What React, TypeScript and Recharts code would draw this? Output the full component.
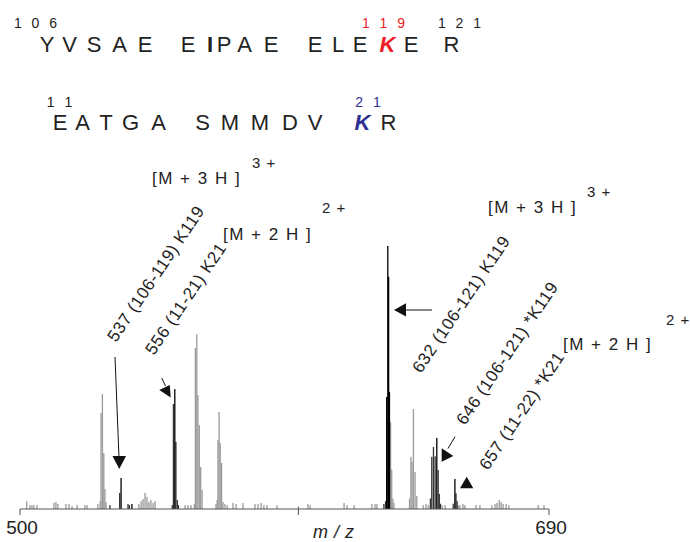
import React from "react";
import { BarChart, Bar, XAxis, YAxis, Cell } from "recharts";

// m/z positions and relative intensities (%), split by shade of the stick
const grayMz = [
  502.4, 503.6, 504.3, 505.0, 506.1, 512.2, 512.9, 513.6, 516.5, 517.6, 518.7,
  520.5, 523.3, 524.1, 528.0, 528.8, 529.1, 529.6, 530.1, 530.5, 530.9, 542.7,
  543.5, 544.2, 544.9, 545.6, 546.3, 547.0, 547.8, 548.5, 559.3, 560.3, 561.4,
  562.6, 563.0, 563.5, 563.9, 564.4, 564.9, 565.4, 570.4, 570.8, 571.1, 571.5,
  571.9, 572.4, 572.9, 573.6, 574.4, 576.5, 577.6, 580.1, 584.4, 585.5, 586.6,
  587.6, 588.7, 592.3, 603.4, 604.2, 616.4, 617.5, 620.0, 626.4, 627.5, 628.2,
  633.1, 633.5, 633.9, 634.3, 639.9, 640.4, 640.8, 641.3, 641.9, 642.5, 644.8,
  645.8, 646.6, 651.6, 652.7, 657.4, 658.0, 659.1, 659.8, 663.8, 665.2, 669.5,
  670.6, 671.3, 672.1, 672.8, 673.5, 674.6, 675.6, 686.1, 688.2,
];
const grayInt = [
  2.9, 1.5, 1.5, 1.5, 1.5, 2.3, 2.7, 1.9, 1.9, 1.9, 1.1, 1.5, 1.5, 1.5, 1.9,
  3.0, 36.5, 43.7, 21.3, 7.6, 2.5, 1.9, 3.0, 3.8, 6.1, 4.6, 2.7, 3.4, 2.3, 3.0,
  1.5, 1.5, 1.5, 1.9, 61.2, 66.5, 43.3, 31.9, 16.0, 7.2, 1.9, 3.4, 26.2, 36.9,
  25.1, 17.5, 2.7, 1.9, 1.5, 2.3, 1.9, 2.3, 1.9, 1.9, 2.3, 1.5, 1.5, 1.5, 1.9,
  1.5, 2.3, 1.5, 1.5, 1.9, 1.9, 1.9, 33.0, 15.0, 4.0, 2.3, 4.0, 19.8, 18.0,
  38.0, 14.0, 5.0, 1.5, 1.9, 1.5, 1.5, 1.5, 1.5, 1.5, 1.9, 1.5, 1.5, 1.5, 1.5,
  1.9, 2.3, 3.4, 2.7, 1.9, 1.9, 1.5, 1.5, 1.5,
];

const darkMz = [
  532.3, 535.8, 538.8, 539.3, 554.7, 555.1, 556.0, 556.5, 556.9, 630.7, 631.3,
  647.4, 647.9, 648.5, 649.1, 650.2, 650.6, 651.0, 655.6, 656.6, 657.0,
];
const darkInt = [
  1.5, 6.1, 1.9, 1.5, 1.5, 39.9, 25.5, 3.4, 1.5, 1.9, 3.0, 4.0, 19.8, 23.6,
  20.0, 14.8, 5.7, 2.0, 2.0, 6.0, 3.0,
];

const blackMz = [536.3, 540.2, 555.6, 631.7, 632.1, 632.4, 632.7, 649.7, 656.2];
const blackInt = [11.8, 1.9, 45.6, 42.6, 100, 88.3, 44.5, 27.0, 11.4];

const axisTicks = [500, 600, 690];
const labelledTicks = [500, 690];

const toneColor: Record<string, string> = {
  gray: "#9a9a9a",
  dark: "#333333",
  black: "#000000",
};

const data = [
  ...grayMz.map((mz, i) => ({ mz, intensity: grayInt[i], tone: "gray" })),
  ...darkMz.map((mz, i) => ({ mz, intensity: darkInt[i], tone: "dark" })),
  ...blackMz.map((mz, i) => ({ mz, intensity: blackInt[i], tone: "black" })),
];

const FONT = '"Liberation Sans", Arial, Helvetica, sans-serif';

// thin vertical stick centred on the bar position
const Stick = (props: any) => {
  const { x, y, width, height, fill } = props;
  if (height == null || isNaN(height)) return null;
  const w = 1.3;
  return <rect x={x + width / 2 - w / 2} y={y} width={w} height={height} fill={fill} />;
};

const TICK_SIZE = 6;
const TICK_MARGIN = 2;

const MzTick = (props: any) => {
  const { x, y, payload } = props;
  const axisY = y - TICK_SIZE - TICK_MARGIN;
  return (
    <g>
      {payload.value === 600 && (
        <line x1={x} x2={x} y1={axisY - 2.5} y2={axisY} stroke="#555" strokeWidth={1} />
      )}
      {labelledTicks.includes(payload.value) && (
        <text
          x={x + 2}
          y={axisY + 24.5}
          textAnchor="middle"
          fontFamily={FONT}
          fontSize={19}
          fill="#222"
        >
          {payload.value}
        </text>
      )}
    </g>
  );
};

const seq1 = [
  ["Y", 47], ["V", 69.5], ["S", 94], ["A", 119.5], ["E", 145],
  ["E", 188], ["I", 210], ["P", 224], ["A", 244.5], ["E", 271],
  ["E", 315], ["L", 338], ["E", 360], ["K", 387.5], ["E", 411], ["R", 451.5],
] as const;
const seq2 = [
  ["E", 60], ["A", 82.5], ["T", 106], ["G", 130.5], ["A", 158.5],
  ["S", 202.5], ["M", 230], ["M", 260], ["D", 290], ["V", 315],
  ["K", 362.5], ["R", 388.5],
] as const;

const RED = "#ec1c24";
const BLUE = "#2e3192";

const rotated = [
  { text: "537 (106-119) K119", x: 116, y: 343 },
  { text: "556 (11-21) K21", x: 154, y: 356 },
  { text: "632 (106-121) K119", x: 421, y: 374 },
  { text: "646 (106-121) *K119", x: 465, y: 426 },
  { text: "657 (11-22) *K21", x: 488, y: 471 },
];

const ions = [
  { text: "[M  + 3 H ]", sup: "3 +", x: 152, y: 184, sx: 252, sy: 168 },
  { text: "[M  + 2 H ]", sup: "2 +", x: 223, y: 240, sx: 322, sy: 213 },
  { text: "[M  + 3 H ]", sup: "3 +", x: 488, y: 213, sx: 587, sy: 197 },
  { text: "[M  + 2 H ]", sup: "2 +", x: 563, y: 350, sx: 666, sy: 325 },
];

function Annotations() {
  return (
    <svg
      width={690}
      height={542}
      style={{ position: "absolute", left: 0, top: 0, pointerEvents: "none" }}
      fontFamily={FONT}
    >
      {/* peptide sequences */}
      <text x={37} y={28} fontSize={14} textAnchor="middle" letterSpacing={3} fill="#222">1 0 6</text>
      <text x={385} y={28} fontSize={14} textAnchor="middle" letterSpacing={3} fill={RED}>1 1 9</text>
      <text x={461} y={28} fontSize={14} textAnchor="middle" letterSpacing={3} fill="#222">1 2 1</text>
      {seq1.map(([c, x], i) => (
        <text
          key={`s1-${i}`}
          x={x}
          y={52}
          fontSize={22}
          textAnchor="middle"
          fill={c === "K" ? RED : "#222"}
          fontWeight={c === "K" || c === "I" ? 700 : 400}
          fontStyle={c === "K" ? "italic" : "normal"}
        >
          {c}
        </text>
      ))}
      <text x={61} y={107} fontSize={14} textAnchor="middle" letterSpacing={3} fill="#222">1 1</text>
      <text x={369.5} y={107} fontSize={14} textAnchor="middle" letterSpacing={3} fill={BLUE}>2 1</text>
      {seq2.map(([c, x], i) => (
        <text
          key={`s2-${i}`}
          x={x}
          y={130}
          fontSize={22}
          textAnchor="middle"
          fill={c === "K" ? BLUE : "#222"}
          fontWeight={c === "K" ? 700 : 400}
          fontStyle={c === "K" ? "italic" : "normal"}
        >
          {c}
        </text>
      ))}

      {/* charge state labels */}
      {ions.map((d, i) => (
        <g key={`ion-${i}`} fill="#222">
          <text x={d.x} y={d.y} fontSize={17} letterSpacing={1.5}>{d.text}</text>
          <text x={d.sx} y={d.sy} fontSize={15} letterSpacing={1}>{d.sup}</text>
        </g>
      ))}

      {/* peak labels */}
      {rotated.map((d, i) => (
        <text
          key={`rot-${i}`}
          transform={`translate(${d.x},${d.y}) rotate(-56)`}
          fontSize={17}
          letterSpacing={0.6}
          fill="#222"
        >
          {d.text}
        </text>
      ))}

      {/* arrows */}
      <g stroke="#111" strokeWidth={1} fill="#111">
        <line x1={115} y1={357} x2={119} y2={458} />
        <polygon points="112.5,456 126,456 119.3,469" stroke="none" />
        <line x1={161.7} y1={378} x2={165.5} y2={386} />
        <polygon points="159.3,390 169.8,385 170.7,397.5" stroke="none" />
        <line x1={432} y1={310} x2={404} y2={310} />
        <polygon points="406,303.3 406,316.5 394,310" stroke="none" />
        <line x1={455} y1={436.7} x2={448} y2={448.5} />
        <polygon points="441.7,448.3 453.3,456 441.7,461.7" stroke="none" />
        <polygon points="460,488.3 473.3,488.3 466.7,476.7" stroke="none" />
      </g>

      <text x={313} y={538} fontSize={18} fontStyle="italic" fill="#222" letterSpacing={0.5}>m / z</text>
    </svg>
  );
}

export default function App() {
  return (
    <div style={{ position: "absolute", left: 0, top: 0, width: 690, height: 542, background: "#fff" }}>
      <BarChart
        width={690}
        height={542}
        data={data}
        margin={{ top: 246, right: 141, left: 20, bottom: 0 }}
      >
        <XAxis
          type="number"
          dataKey="mz"
          domain={[500, 690]}
          ticks={axisTicks}
          interval={0}
          allowDataOverflow
          height={33}
          stroke="#555"
          tickSize={TICK_SIZE}
          tickMargin={TICK_MARGIN}
          tick={<MzTick />}
        />
        <YAxis hide domain={[0, 100]} allowDataOverflow />
        <Bar dataKey="intensity" isAnimationActive={false} shape={<Stick />}>
          {data.map((d, i) => (
            <Cell key={`c-${i}`} fill={toneColor[d.tone]} />
          ))}
        </Bar>
      </BarChart>
      <Annotations />
    </div>
  );
}
